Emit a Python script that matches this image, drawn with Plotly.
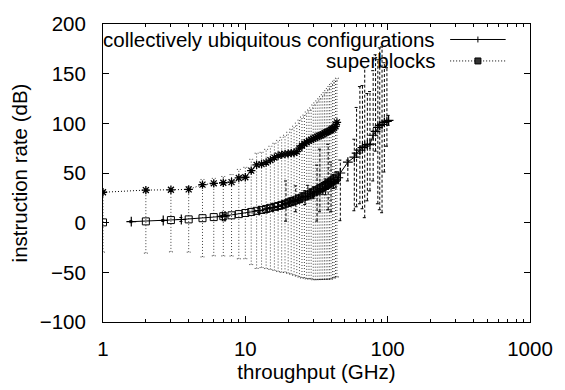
import plotly.graph_objects as go

# ---------------- data ----------------
# series drawn with open squares + dotted grey error bars (no key entry)
sq_x = list(range(1, 45))
sq_y = [0.3, 1.3, 2.6, 3.3, 4.5, 5.6, 6.5, 7.4, 8.6, 9.7,
        10.8, 11.9, 12.8, 13.8, 14.9, 15.9, 16.8, 17.9, 19.0, 20.0,
        21.1, 22.1, 23.2, 24.2, 25.3, 26.3, 27.4, 28.4, 29.5, 30.5,
        31.6, 32.6, 33.7, 34.8, 35.8, 36.9, 37.9, 39.0, 40.1, 41.1,
        42.2, 43.3, 44.3, 45.4]
sq_err = [30, 32, 32, 33, 39, 39, 40, 41, 45, 46,
          53, 58, 58, 60, 62, 64, 66, 68, 69, 71,
          73, 75, 77, 79, 81, 82, 84, 85, 86, 88,
          89, 90, 91, 92, 93, 94, 95, 96, 97, 98,
          98, 99, 99, 100]

# superblocks
sb_x = list(range(1, 45))
sb_y = [30.6, 32.8, 33.1, 33.5, 38.3, 39.6, 40.2, 40.8, 45.0, 45.7,
        52.4, 58.2, 58.9, 60.5, 63.0, 65.5, 67.5, 68.5, 69.0, 69.5,
        70.0, 70.3, 71.5, 75.0, 77.5, 79.5, 81.0, 82.3, 83.5, 84.5,
        85.5, 86.5, 87.3, 88.0, 89.0, 90.0, 90.8, 91.7, 92.6, 93.5,
        94.5, 95.5, 97.0, 101.0]

# collectively ubiquitous configurations
cu_x = [1.58, 2.65, 3.55, 6.9, 7.2, 12.5, 14.2, 15.6, 17.0, 18.3,
        19.3, 20.5, 21.6, 22.6, 23.8, 25.0, 26.3, 27.5, 28.8, 30.2,
        31.9, 33.4, 35.0, 36.6, 38.2, 40.0, 41.7, 43.3, 45.0, 46.5,
        52.5, 58.3, 60.5, 63.8, 66.5, 69.0, 72.0, 75.1, 79.1, 82.2,
        85.3, 88.0, 91.3, 94.8, 98.8, 101.5]
cu_y = [1.0, 2.2, 3.2, 6.3, 6.8, 12.1, 13.8, 15.2, 16.5, 18.0,
        19.5, 20.6, 21.4, 22.5, 23.8, 25.1, 26.2, 27.6, 28.9, 30.1,
        31.4, 33.0, 34.6, 36.1, 37.9, 39.6, 41.4, 43.0, 45.2, 50.0,
        61.0, 66.0, 70.0, 73.0, 75.6, 77.0, 78.5, 79.0, 88.0, 92.0,
        96.0, 98.0, 99.0, 101.0, 102.0, 103.0]
cu_up = [1, 1, 2, 1, 1.5, 2, 2, 3, 3, 3,
         22.5, 4, 4, 14.5, 4, 5, 6, 10, 5, 6,
         26.6, 41, 6, 8, 41, 21.4, 7, 8, 6, 13,
         2, 18, 46, 64, 62.4, 79, 51.5, 53, 65, 77,
         68, 78, 78, 60, 54, 5]
cu_dn = [1, 1, 2, 1, 5, 2, 2, 3, 3, 3,
         18, 4, 4, 11.5, 4, 5, 8, 4, 5, 6,
         29.8, 22, 6, 8, 25, 28.6, 7, 8, 6, 48,
         19, 54, 54, 54, 61.6, 72, 56.5, 47, 46, 20,
         77, 85, 89, 50, 25, 5]

x_ticks = [1, 10, 100, 1000]
x_minor = [m * d for d in (1, 10, 100) for m in range(2, 10)]
y_ticks = [-100, -50, 0, 50, 100, 150, 200]

FONT = "Liberation Sans, Arial, Helvetica, sans-serif"
FS = 20.5


def bar_path(xs, ys, up, dn, capf=1.032):
    bx, by = [], []
    for x, y, u, d in zip(xs, ys, up, dn):
        lo, hi = y - d, y + u
        bx += [x, x, None, x / capf, x * capf, None, x / capf, x * capf, None]
        by += [lo, hi, None, lo, lo, None, hi, hi, None]
    return bx, by


fig = go.Figure()

gx, gy = bar_path(sq_x, sq_y, sq_err, sq_err)
fig.add_trace(go.Scatter(x=gx, y=gy, mode="lines", hoverinfo="skip",
                         line=dict(color="rgba(0,0,0,0.75)", width=1, dash="1px,2px"),
                         showlegend=False))
dx, dy = bar_path(cu_x, cu_y, cu_up, cu_dn)
fig.add_trace(go.Scatter(x=dx, y=dy, mode="lines", hoverinfo="skip",
                         line=dict(color="black", width=1, dash="3px,2px"),
                         showlegend=False))

fig.add_trace(go.Scatter(x=sq_x, y=sq_y, mode="markers", showlegend=False,
                         marker=dict(symbol="square-open", size=7, color="black",
                                     line=dict(width=1, color="black"))))
fig.add_trace(go.Scatter(x=sb_x, y=sb_y, mode="lines+markers", name="superblocks",
                         showlegend=False,
                         line=dict(color="black", width=1, dash="1px,2px"),
                         marker=dict(symbol="asterisk-open", size=7, color="black",
                                     line=dict(width=1.3, color="black"))))
fig.add_trace(go.Scatter(x=cu_x, y=cu_y, mode="lines+markers",
                         name="collectively ubiquitous configurations", showlegend=False,
                         line=dict(color="black", width=1),
                         marker=dict(symbol="cross-thin-open", size=7, color="black",
                                     line=dict(width=1.2, color="black"))))

# key (gnuplot style: text left, sample right)
L_TXT, L0, L1, LM = 0.783, 0.813, 0.943, 0.878
KY = [0.948, 0.876]
fig.add_annotation(x=L_TXT, y=KY[0], xref="paper", yref="paper", xanchor="right",
                   yanchor="middle", showarrow=False,
                   text="collectively ubiquitous configurations",
                   font=dict(family=FONT, size=FS, color="black"))
fig.add_annotation(x=L_TXT, y=KY[1], xref="paper", yref="paper", xanchor="right",
                   yanchor="middle", showarrow=False, text="superblocks",
                   font=dict(family=FONT, size=FS, color="black"))
fig.add_shape(type="line", xref="paper", yref="paper", x0=L0, x1=L1, y0=KY[0], y1=KY[0],
              line=dict(color="black", width=1))
fig.add_shape(type="line", xref="paper", yref="paper", x0=LM, x1=LM,
              y0=KY[0] - 0.01, y1=KY[0] + 0.01, line=dict(color="black", width=1))
fig.add_shape(type="line", xref="paper", yref="paper", x0=L0, x1=L1, y0=KY[1], y1=KY[1],
              line=dict(color="black", width=1, dash="1px,2px"))
fig.add_shape(type="rect", xref="paper", yref="paper", x0=LM - 0.007, x1=LM + 0.007,
              y0=KY[1] - 0.01, y1=KY[1] + 0.01, fillcolor="#333",
              line=dict(color="black", width=1))

fig.update_layout(
    width=565, height=390,
    margin=dict(l=103, r=25, t=14, b=66),
    paper_bgcolor="white", plot_bgcolor="white",
    font=dict(family=FONT, size=FS, color="black"),
    showlegend=False,
)
fig.update_xaxes(
    type="log", range=[0, 3], tickmode="array", tickvals=x_ticks,
    ticktext=[str(v) for v in x_ticks],
    ticks="inside", ticklen=6, tickwidth=1, tickcolor="black",
    minor=dict(tickmode="array", tickvals=x_minor, ticks="inside", ticklen=3,
               tickwidth=1, tickcolor="black", showgrid=False),
    showline=True, linecolor="black", linewidth=1, mirror="ticks",
    showgrid=False, zeroline=False, ticklabelstandoff=8,
    title=dict(text="throughput (GHz)", font=dict(size=FS), standoff=4),
)
fig.update_yaxes(
    range=[-100, 200], tickmode="array", tickvals=y_ticks,
    ticks="inside", ticklen=6, tickwidth=1, tickcolor="black",
    showline=True, linecolor="black", linewidth=1, mirror="ticks",
    showgrid=False, zeroline=False, ticklabelstandoff=12,
    title=dict(text="instruction rate (dB)", font=dict(size=FS), standoff=6),
)

fig.write_html("out.html")
